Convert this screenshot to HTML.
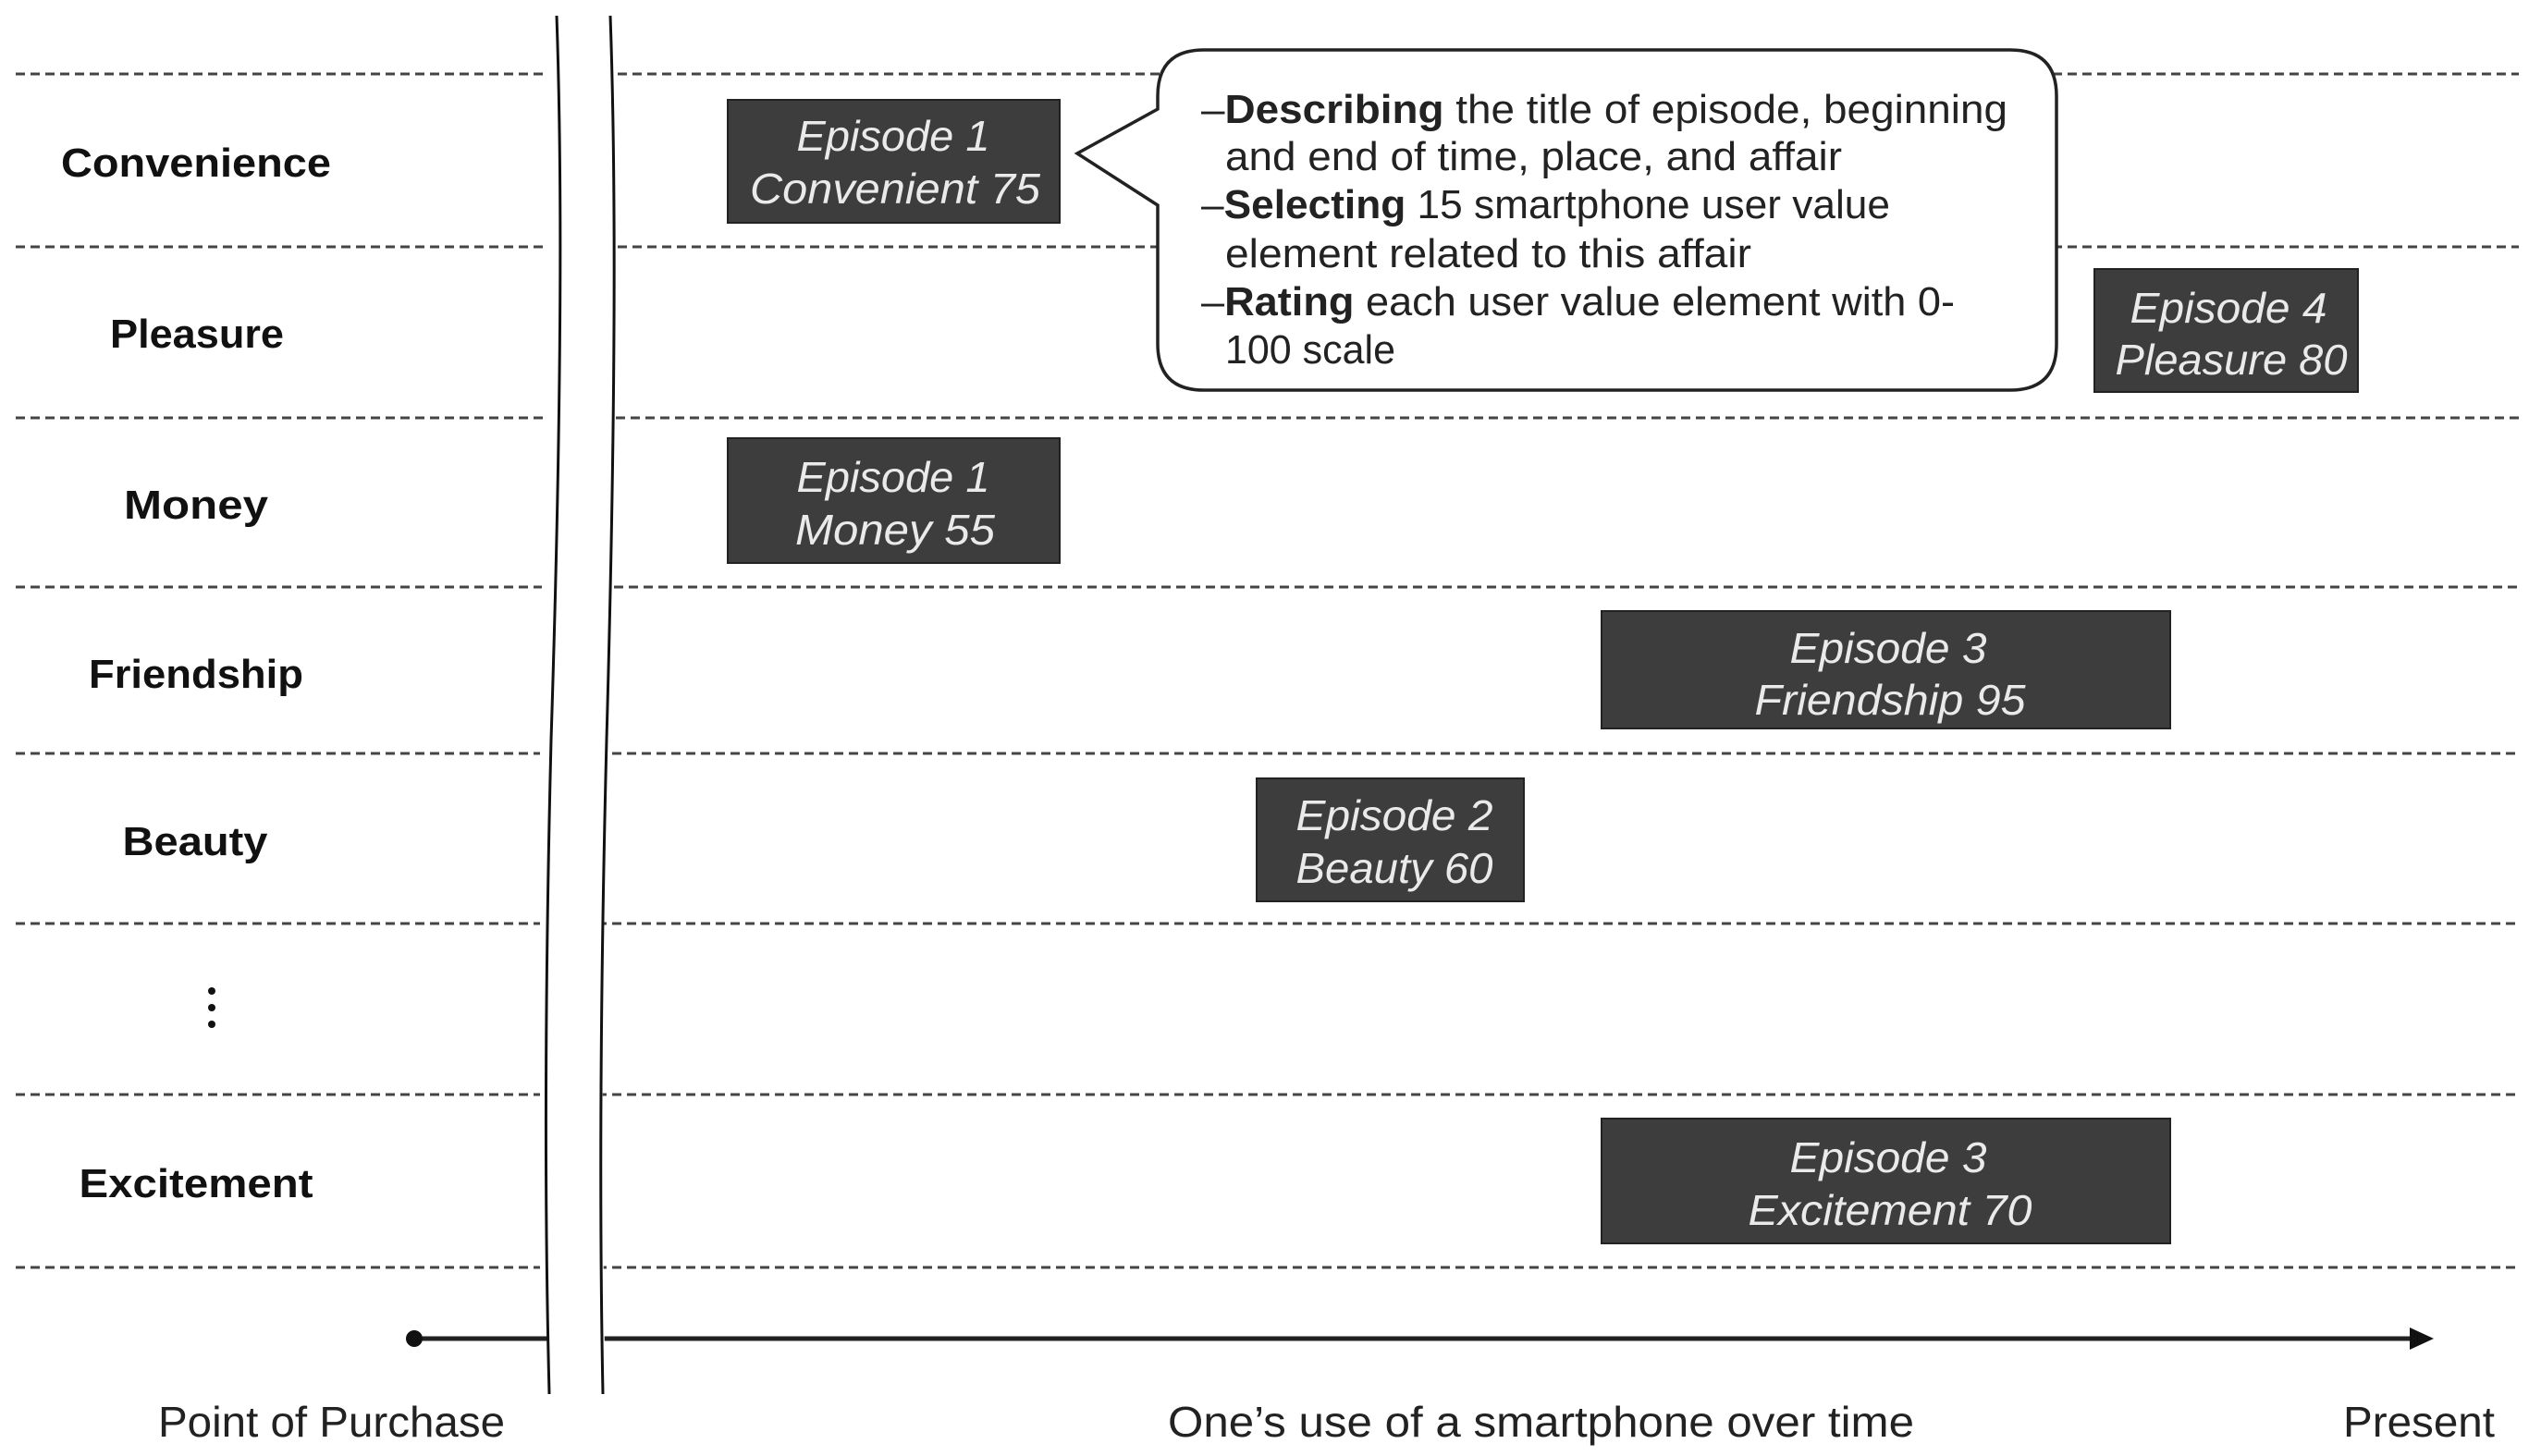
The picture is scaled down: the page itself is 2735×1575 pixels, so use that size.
<!DOCTYPE html>
<html><head><meta charset="utf-8"><style>html,body{margin:0;padding:0;background:#fff}svg{display:block}</style></head>
<body>
<svg width="2735" height="1575" viewBox="0 0 2735 1575" xmlns="http://www.w3.org/2000/svg" font-family="'Liberation Sans', sans-serif">
<rect width="2735" height="1575" fill="#fff"/>
<g stroke="#444" stroke-width="3" stroke-dasharray="10,6">
<line x1="17" y1="80" x2="590" y2="80"/><line x1="652" y1="80" x2="2724" y2="80"/>
<line x1="17" y1="267" x2="590" y2="267"/><line x1="652" y1="267" x2="2724" y2="267"/>
<line x1="17" y1="452" x2="588" y2="452"/><line x1="650" y1="452" x2="2724" y2="452"/>
<line x1="17" y1="635" x2="586" y2="635"/><line x1="648" y1="635" x2="2724" y2="635"/>
<line x1="17" y1="815" x2="584" y2="815"/><line x1="646" y1="815" x2="2724" y2="815"/>
<line x1="17" y1="999" x2="584" y2="999"/><line x1="646" y1="999" x2="2724" y2="999"/>
<line x1="17" y1="1184" x2="584" y2="1184"/><line x1="646" y1="1184" x2="2724" y2="1184"/>
<line x1="17" y1="1371" x2="584" y2="1371"/><line x1="646" y1="1371" x2="2724" y2="1371"/>
</g>
<!-- axis -->
<line x1="448" y1="1448" x2="2610" y2="1448" stroke="#222" stroke-width="5"/>
<circle cx="448" cy="1448" r="9" fill="#111"/>
<polygon points="2632,1448 2606,1436 2606,1460" fill="#111"/>
<!-- break -->
<path d="M590 17 Q610 300 596 800 Q586 1200 594 1508 L655 1508 Q648 1200 656 800 Q668 300 662 17 Z" fill="#fff"/>
<path d="M602 17 Q612 300 596 800 Q586 1200 594 1508" fill="none" stroke="#111" stroke-width="3"/>
<path d="M660 17 Q670 300 656 800 Q646 1200 652 1508" fill="none" stroke="#111" stroke-width="3"/>
<!-- row labels -->
<g font-weight="bold" font-size="44" fill="#111" text-anchor="middle">
<text x="212" y="191" textLength="292" lengthAdjust="spacingAndGlyphs">Convenience</text>
<text x="213" y="376" textLength="188" lengthAdjust="spacingAndGlyphs">Pleasure</text>
<text x="212" y="561" textLength="156" lengthAdjust="spacingAndGlyphs">Money</text>
<text x="212" y="744" textLength="232" lengthAdjust="spacingAndGlyphs">Friendship</text>
<text x="211" y="925" textLength="157" lengthAdjust="spacingAndGlyphs">Beauty</text>
<text x="212" y="1295" textLength="253" lengthAdjust="spacingAndGlyphs">Excitement</text>
</g>
<g fill="#111"><circle cx="229" cy="1072" r="4"/><circle cx="229" cy="1090" r="4"/><circle cx="229" cy="1108" r="4"/></g>
<!-- boxes -->
<g fill="#3d3d3d" stroke="#222" stroke-width="2">
<rect x="787" y="108" width="359" height="133"/>
<rect x="787" y="474" width="359" height="135"/>
<rect x="2265" y="291" width="285" height="133"/>
<rect x="1732" y="661" width="615" height="127"/>
<rect x="1359" y="842" width="289" height="133"/>
<rect x="1732" y="1210" width="615" height="135"/>
</g>
<g fill="#eaeaea" font-style="italic" font-size="46" text-anchor="middle">
<text x="966" y="163" textLength="209" lengthAdjust="spacingAndGlyphs">Episode 1</text>
<text x="968" y="220" textLength="314" lengthAdjust="spacingAndGlyphs">Convenient 75</text>
<text x="966" y="532" textLength="209" lengthAdjust="spacingAndGlyphs">Episode 1</text>
<text x="968" y="589" textLength="216" lengthAdjust="spacingAndGlyphs">Money 55</text>
<text x="2410" y="349" textLength="213" lengthAdjust="spacingAndGlyphs">Episode 4</text>
<text x="2413" y="405" textLength="251" lengthAdjust="spacingAndGlyphs">Pleasure 80</text>
<text x="2042" y="717" textLength="213" lengthAdjust="spacingAndGlyphs">Episode 3</text>
<text x="2044" y="773" textLength="293" lengthAdjust="spacingAndGlyphs">Friendship 95</text>
<text x="1508" y="898" textLength="213" lengthAdjust="spacingAndGlyphs">Episode 2</text>
<text x="1508" y="955" textLength="213" lengthAdjust="spacingAndGlyphs">Beauty 60</text>
<text x="2042" y="1268" textLength="213" lengthAdjust="spacingAndGlyphs">Episode 3</text>
<text x="2044" y="1325" textLength="307" lengthAdjust="spacingAndGlyphs">Excitement 70</text>
</g>
<!-- callout -->
<path d="M1302 54 L2174 54 Q2224 54 2224 104 L2224 372 Q2224 422 2174 422 L1302 422 Q1252 422 1252 372 L1252 222 L1165 166 L1252 118 L1252 104 Q1252 54 1302 54 Z" fill="#fff" stroke="#222" stroke-width="3.5"/>
<g font-size="44" fill="#222">
<text x="1299" y="133" textLength="872" lengthAdjust="spacingAndGlyphs">–<tspan font-weight="bold">Describing</tspan> the title of episode, beginning</text>
<text x="1325" y="184" textLength="667" lengthAdjust="spacingAndGlyphs">and end of time, place, and affair</text>
<text x="1299" y="236" textLength="745" lengthAdjust="spacingAndGlyphs">–<tspan font-weight="bold">Selecting</tspan> 15 smartphone user value</text>
<text x="1325" y="289" textLength="569" lengthAdjust="spacingAndGlyphs">element related to this affair</text>
<text x="1299" y="341" textLength="815" lengthAdjust="spacingAndGlyphs">–<tspan font-weight="bold">Rating</tspan> each user value element with 0-</text>
<text x="1325" y="393" textLength="184" lengthAdjust="spacingAndGlyphs">100 scale</text>
</g>
<!-- bottom labels -->
<g font-size="46" fill="#222">
<text x="171" y="1554" textLength="375" lengthAdjust="spacingAndGlyphs">Point of Purchase</text>
<text x="1263" y="1554" textLength="807" lengthAdjust="spacingAndGlyphs">One’s use of a smartphone over time</text>
<text x="2534" y="1554" textLength="164" lengthAdjust="spacingAndGlyphs">Present</text>
</g>
</svg>
</body></html>
